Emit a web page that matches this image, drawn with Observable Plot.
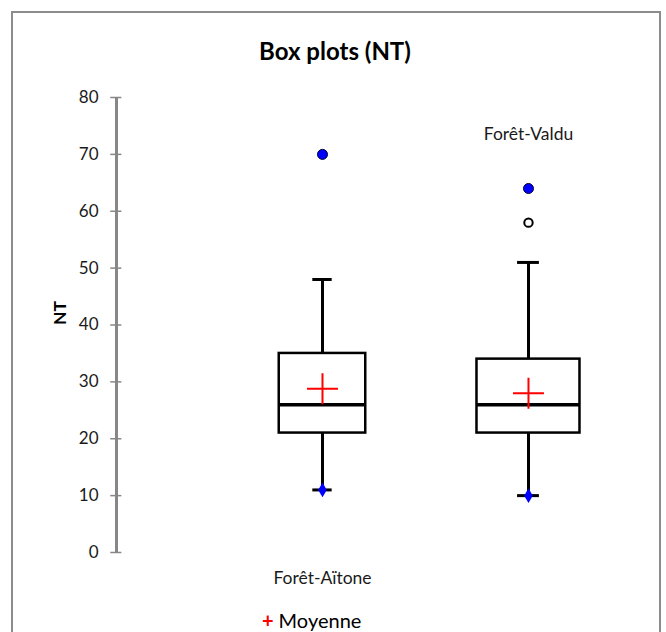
<!DOCTYPE html>
<html>
<head>
<meta charset="utf-8">
<script src="https://cdn.jsdelivr.net/npm/d3@7"></script>
<script src="https://cdn.jsdelivr.net/npm/@observablehq/plot@0.6"></script>
<style>
  html, body { margin: 0; padding: 0; background: #fff; }
  #wrap { position: relative; width: 666px; height: 632px; overflow: hidden; font-family: Lato, "Open Sans", sans-serif; }
  #border { position: absolute; left: 11px; top: 11px; width: 646px; height: 700px; border: 2px solid #8c8c8c; border-bottom: none; }
  #title { position: absolute; left: 0; width: 670px; top: 36px; text-align: center; font-weight: bold; font-size: 24px; color: #000; }
  #legend { position: absolute; left: 262px; top: 607px; font-size: 20px; color: #000; white-space: nowrap; line-height: 26px; }
  #legend .plus { color: #ff0000; font-size: 20px; font-weight: bold; margin-right: 5px; }
  #chart { position: absolute; left: 0; top: 0; }
</style>
</head>
<body>
<div id="wrap">
  <div id="border"></div>
  <div id="chart"></div>
  <div id="title">Box plots (NT)</div>
  <div id="legend"><span class="plus">+</span>Moyenne</div>
</div>
<script>
// ---- data ----
const sites      = ["Forêt-Aïtone", "Forêt-Valdu"];
const q1         = [21, 21];
const medians    = [26, 26];
const q3         = [35, 34];
const whiskerLow = [11, 10];
const whiskerHigh= [48, 51];
const means      = [28.8, 28.0];
const minima     = [11, 10];
const maxima     = [70, 64];
const outliersSite  = ["Forêt-Valdu"];
const outliersValue = [58];
const yTicks = [0, 10, 20, 30, 40, 50, 60, 70, 80];

// ---- layout / style constants ----
const pos = [1, 2];              // category positions on x scale
const boxHalf = [0.21, 0.25];    // box half-widths (x units)
const capHalf = [0.047, 0.053];  // whisker cap half-widths
const labelPlacement = ["bottom", "top"];

const rows = sites.map((s, i) => ({
  site: s, x: pos[i], half: boxHalf[i], cap: capHalf[i],
  q1: q1[i], med: medians[i], q3: q3[i], lo: whiskerLow[i], hi: whiskerHigh[i],
  mean: means[i], min: minima[i], max: maxima[i]
}));
const outs = outliersSite.map((s, i) => ({ x: pos[sites.indexOf(s)], v: outliersValue[i] }));

const stroke = "#000";
const sw = 3;

const chart = Plot.plot({
  width: 666,
  height: 632,
  marginLeft: 116,
  marginRight: 0,
  marginTop: 97,
  marginBottom: 80,
  style: { background: "transparent", fontFamily: "Lato, 'Open Sans', sans-serif" },
  x: { domain: [0, 2.67], axis: null },
  y: { domain: [0, 80], axis: null },
  marks: [
    // y axis line and ticks
    Plot.ruleX([0], { y1: 0, y2: 80, stroke: "#878787", strokeWidth: 3 }),
    Plot.ruleY(yTicks, { y: d => d, x1: -0.028, x2: 0.026, stroke: "#878787", strokeWidth: 1.5 }),
    Plot.axisY(yTicks, { anchor: "left", tickSize: 0, tickPadding: 18, fontSize: 17, fill: "#1a1a1a", label: null }),
    Plot.text(["NT"], { frameAnchor: "left", dx: -56, rotate: -90, fontWeight: "bold", fontSize: 17.5, fill: "#000" }),
    // whiskers
    Plot.ruleX(rows, { x: "x", y1: "q3", y2: "hi", stroke, strokeWidth: sw }),
    Plot.ruleX(rows, { x: "x", y1: "q1", y2: "lo", stroke, strokeWidth: sw }),
    Plot.ruleY(rows, { y: "hi", x1: d => d.x - d.cap, x2: d => d.x + d.cap, stroke, strokeWidth: sw }),
    Plot.ruleY(rows, { y: "lo", x1: d => d.x - d.cap, x2: d => d.x + d.cap, stroke, strokeWidth: sw }),
    // boxes
    Plot.rect(rows, { x1: d => d.x - d.half, x2: d => d.x + d.half, y1: "q1", y2: "q3", fill: "#fff", stroke, strokeWidth: 2.5 }),
    Plot.ruleY(rows, { y: "med", x1: d => d.x - d.half, x2: d => d.x + d.half, stroke, strokeWidth: 3.5 }),
    // mean
    Plot.dot(rows, { x: "x", y: "mean", symbol: "plus", r: 10, stroke: "#ff0000", strokeWidth: 2 }),
    // minimum markers
    Plot.dot(rows, { x: "x", y: "min", symbol: "diamond", r: 4.5, fill: "#0000ff", stroke: "none" }),
    // maximum markers
    Plot.dot(rows, { x: "x", y: "max", r: 5, fill: "#0000ff", stroke: "#000033", strokeWidth: 1 }),
    // outliers
    Plot.dot(outs, { x: "x", y: "v", r: 4.2, fill: "#fff", stroke: "#000", strokeWidth: 2 }),
    // category labels (staggered)
    Plot.text(rows.filter((d, i) => labelPlacement[i] === "bottom"), { x: "x", text: "site", frameAnchor: "bottom", dy: 31, fontSize: 17.5, fill: "#1a1a1a" }),
    Plot.text(rows.filter((d, i) => labelPlacement[i] === "top"), { x: "x", text: "site", frameAnchor: "top", dy: 30, fontSize: 17.5, fill: "#1a1a1a" })
  ]
});
document.getElementById("chart").appendChild(chart);
</script>
</body>
</html>
